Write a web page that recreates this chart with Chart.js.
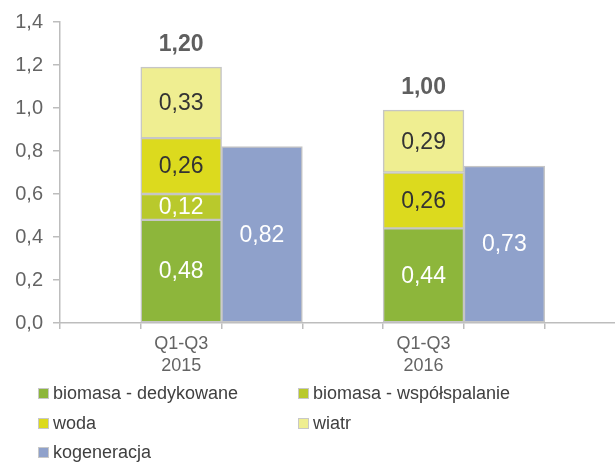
<!DOCTYPE html>
<html>
<head>
<meta charset="utf-8">
<script src="https://cdn.jsdelivr.net/npm/chart.js@4/dist/chart.umd.min.js"></script>
<style>
  html, body { margin: 0; padding: 0; background: #fff; overflow: hidden; }
  #wrap { position: relative; width: 615px; height: 464px; }
  #legend { position: absolute; left: 0; top: 0; width: 615px; height: 464px; pointer-events: none;
            font-family: "Liberation Sans", Arial, sans-serif; font-size: 18px; color: #404040; }
  .item { position: absolute; display: flex; align-items: center; white-space: nowrap; height: 24px; }
  .sw { width: 9px; height: 9px; border: 1px solid #c8c8c8; margin-right: 4px; }
</style>
</head>
<body>
<div id="wrap">
  <canvas id="c" width="615" height="464"></canvas>
  <div id="legend"></div>
</div>
<script>
// Periods on the category axis
const categories = [['Q1-Q3', '2015'], ['Q1-Q3', '2016']];

// Series values per period
const biomasaDedykowane = [0.48, 0.44];
const biomasaWspolspalanie = [0.12, null];
const woda = [0.26, 0.26];
const wiatr = [0.33, 0.29];
const kogeneracja = [0.82, 0.73];

// Totals printed above the renewable stacks
const totals = [1.20, 1.00];

// Value axis range
const yMin = 0, yMax = 1.4, yStep = 0.2;

// Slot layout on the horizontal axis (one slot = one bar width)
const stackSlots = [1.5, 4.5];
const kogSlots = [2.5, 5.5];
const xMax = 6.87;

const FONT = '"Liberation Sans", Arial, sans-serif';
const fmt = (v, d) => v.toFixed(d).replace('.', ',');

const series = [
  { name: 'biomasa - dedykowane', values: biomasaDedykowane, slots: stackSlots, color: '#8db63b', text: '#ffffff' },
  { name: 'biomasa - współspalanie', values: biomasaWspolspalanie, slots: stackSlots, color: '#b9c92c', text: '#ffffff' },
  { name: 'woda', values: woda, slots: stackSlots, color: '#dcda1e', text: '#333333' },
  { name: 'wiatr', values: wiatr, slots: stackSlots, color: '#efee91', text: '#333333' },
  { name: 'kogeneracja', values: kogeneracja, slots: kogSlots, color: '#8fa1cb', text: '#ffffff' }
];

const datasets = series.map(s => ({
  label: s.name,
  data: s.values.map((v, i) => ({ x: s.slots[i], y: v })).filter(p => p.y !== null),
  backgroundColor: s.color,
  borderColor: '#c6c6c6',
  borderWidth: 1.5,
  borderSkipped: false,
  barPercentage: 1,
  categoryPercentage: 1,
  xAxisID: 'x',
  labelColor: s.text
}));

// Values inside the segments and totals above the stacks
const valueLabels = {
  id: 'valueLabels',
  afterDatasetsDraw(chart) {
    const ctx = chart.ctx;
    ctx.save();
    ctx.textAlign = 'center';
    ctx.textBaseline = 'middle';
    ctx.font = '23px ' + FONT;
    chart.data.datasets.forEach((ds, di) => {
      const meta = chart.getDatasetMeta(di);
      meta.data.forEach((el, i) => {
        const v = ds.data[i].y;
        const p = el.getProps(['x', 'y', 'base'], true);
        ctx.fillStyle = ds.labelColor;
        ctx.fillText(fmt(v, 2), p.x, (p.y + p.base) / 2 + 1);
      });
    });
    ctx.font = 'bold 23px ' + FONT;
    ctx.fillStyle = '#5f5f5f';
    totals.forEach((t, i) => {
      const x = chart.scales.x.getPixelForValue(stackSlots[i]);
      const y = chart.scales.y.getPixelForValue(t) - 20;
      ctx.fillText(fmt(t, 2), x, y);
    });
    ctx.restore();
  }
};

const axisColor = '#bdbdbd';

new Chart(document.getElementById('c'), {
  type: 'bar',
  data: { datasets },
  options: {
    responsive: false,
    animation: false,
    layout: { padding: { top: 20, right: 0, bottom: 81, left: 0 } },
    plugins: { legend: { display: false }, tooltip: { enabled: false } },
    scales: {
      x: {
        type: 'linear',
        stacked: true,
        offset: false,
        min: 0, max: xMax,
        weight: 0,
        afterBuildTicks: axis => {
          const t = [];
          for (let v = 0; v <= Math.floor(xMax); v++) t.push({ value: v });
          axis.ticks = t;
        },
        afterFit: axis => { axis.height = 6; },
        ticks: { display: false, autoSkip: false },
        grid: { offset: false, drawOnChartArea: false, drawTicks: true, tickLength: 6, color: axisColor, lineWidth: 1.5 },
        border: { display: true, color: axisColor, width: 1.5 }
      },
      xLabels: {
        type: 'linear',
        position: 'bottom',
        offset: false,
        min: 0, max: xMax,
        weight: 1,
        afterBuildTicks: axis => { axis.ticks = stackSlots.map(v => ({ value: v })); },
        afterFit: axis => { axis.height = 54; },
        ticks: {
          autoSkip: false, maxRotation: 0, padding: 4,
          color: '#646464',
          font: { family: FONT, size: 18, lineHeight: 1.22 },
          callback: (v) => {
            const i = stackSlots.indexOf(v);
            return i >= 0 ? categories[i] : '';
          }
        },
        grid: { offset: false, display: false, drawTicks: false },
        border: { display: false }
      },
      y: {
        stacked: true,
        min: yMin, max: yMax,
        afterFit: axis => { axis.width = 60; },
        ticks: {
          stepSize: yStep, padding: 10,
          color: '#646464',
          font: { family: FONT, size: 20 },
          callback: v => fmt(v, 1)
        },
        grid: { drawOnChartArea: false, drawTicks: true, tickLength: 7, color: axisColor, lineWidth: 1.5 },
        border: { display: true, color: axisColor, width: 1.5 }
      }
    }
  },
  plugins: [valueLabels]
});

// Legend in two columns under the plot
const legendRows = [[0, 1], [2, 3], [4]];
const colLeft = [38, 298];
const rowCenter = [393, 423, 452];
const legend = document.getElementById('legend');
legendRows.forEach((row, r) => {
  row.forEach((si, c) => {
    const s = series[si];
    const item = document.createElement('div');
    item.className = 'item';
    item.style.left = colLeft[c] + 'px';
    item.style.top = (rowCenter[r] - 12) + 'px';
    const sw = document.createElement('span');
    sw.className = 'sw';
    sw.style.background = s.color;
    const tx = document.createElement('span');
    tx.textContent = s.name;
    item.appendChild(sw);
    item.appendChild(tx);
    legend.appendChild(item);
  });
});
</script>
</body>
</html>
